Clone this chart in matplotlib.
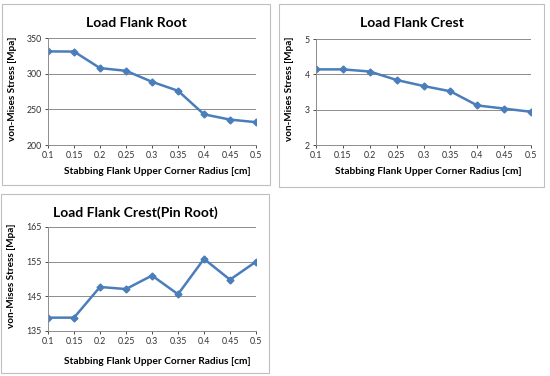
import matplotlib.pyplot as plt
from matplotlib.patches import Rectangle

# values
radius = [0.1, 0.15, 0.2, 0.25, 0.3, 0.35, 0.4, 0.45, 0.5]
radius_labels = ['0.1', '0.15', '0.2', '0.25', '0.3', '0.35', '0.4', '0.45', '0.5']
root_stress = [331.2, 331.0, 307.8, 304.0, 288.6, 276.0, 243.0, 235.6, 232.0]
crest_stress = [4.14, 4.14, 4.08, 3.84, 3.67, 3.52, 3.12, 3.03, 2.94]
pin_root_stress = [138.85, 138.85, 147.7, 147.1, 151.0, 145.6, 155.8, 149.8, 155.0]

plt.rcParams['font.family'] = ['Lato', 'DejaVu Sans']

W, H = 550, 376
fig = plt.figure(figsize=(W / 100, H / 100), dpi=100)
fig.patch.set_facecolor('white')

LINE = '#4A7EBB'
GRID = '#8C8C8C'


def px_box(x0, y0, x1, y1):
    return [x0 / W, 1 - y1 / H, (x1 - x0) / W, (y1 - y0) / H]


def panel(frame, plot, title, y, ylim, yticks):
    fx0, fy0, fx1, fy1 = frame
    fig.patches.append(Rectangle((fx0 / W, 1 - fy1 / H), (fx1 - fx0) / W, (fy1 - fy0) / H,
                                 transform=fig.transFigure, fill=False,
                                 edgecolor='#BFBFBF', linewidth=0.8))
    ax = fig.add_axes(px_box(*plot))
    ax.plot(radius, y, color=LINE, linewidth=1.8, marker='D', markersize=3.5)
    ax.set_xlim(radius[0], radius[-1])
    ax.set_ylim(*ylim)
    ax.set_yticks(yticks)
    ax.set_xticks(radius)
    ax.set_xticklabels(radius_labels)
    ax.tick_params(labelsize=6.3, colors='#303030', length=2.5, width=0.6, pad=2)
    ax.grid(axis='y', color=GRID, linewidth=0.7)
    ax.set_axisbelow(True)
    for s in ['top', 'right']:
        ax.spines[s].set_visible(False)
    for s in ['left', 'bottom']:
        ax.spines[s].set_color(GRID)
        ax.spines[s].set_linewidth(0.7)
    cx = (fx0 + fx1) / 2
    fig.text(cx / W, 1 - (fy0 + 19) / H, title, ha='center', va='center',
             fontsize=10, fontweight='bold')
    fig.text(((plot[0] + plot[2]) / 2 + 5) / W, 1 - (fy0 + 168) / H,
             'Stabbing Flank Upper Corner Radius [cm]', ha='center', va='center',
             fontsize=7.3, fontweight='bold')
    fig.text((fx0 + 11) / W, 1 - ((plot[1] + plot[3]) / 2 - 3) / H, 'von-Mises Stress [Mpa]',
             ha='center', va='center', rotation=90, fontsize=7.2, fontweight='bold')
    return ax


panel((2, 4, 270, 185), (48, 38, 256, 145), 'Load Flank Root',
      root_stress, (200, 350), [200, 250, 300, 350])
panel((279, 4, 544, 187), (316, 39, 531, 145), 'Load Flank Crest',
      crest_stress, (2, 5), [2, 3, 4, 5])
panel((1, 194, 269, 373), (48, 227, 256, 331), 'Load Flank Crest(Pin Root)',
      pin_root_stress, (135, 165), [135, 145, 155, 165])

plt.savefig('out.png', dpi=100)
